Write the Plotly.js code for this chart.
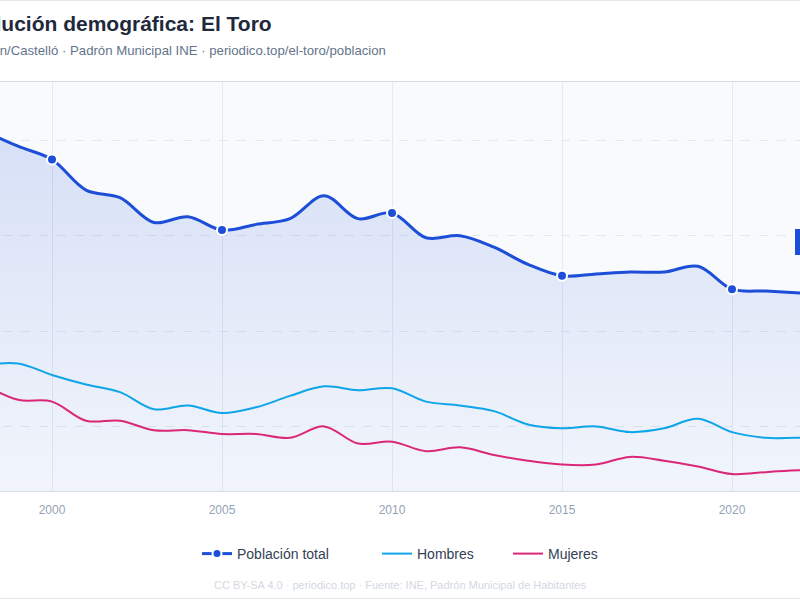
<!DOCTYPE html>
<html>
<head>
<meta charset="utf-8">
<script src="https://cdn.plot.ly/plotly-3.0.1.min.js"></script>
<style>
  html, body { margin: 0; padding: 0; background: #ffffff; width: 800px; height: 600px; overflow: hidden; }
  #frame { position: absolute; left: 0; top: 0; width: 800px; height: 600px; overflow: hidden; }
  #chart { position: absolute; left: -120px; top: 0; width: 1040px; height: 600px; }
  .rule { position: absolute; left: 0; width: 800px; height: 1px; background: #e3e7ee; }
</style>
</head>
<body>
<div id="frame">
  <div id="chart"></div>
  <div class="rule" style="top:0"></div>
  <div class="rule" style="top:598px"></div>
</div>
<script>
// Padrón municipal, El Toro (Castellón/Castelló)
const years    = [1998, 1999, 2000, 2001, 2002, 2003, 2004, 2005, 2006, 2007, 2008, 2009, 2010,
                  2011, 2012, 2013, 2014, 2015, 2016, 2017, 2018, 2019, 2020, 2021, 2022, 2023];
const total    = [255, 247, 240, 224, 220, 207, 210, 203, 206, 209, 221, 209, 212,
                  199, 200, 194, 185, 179, 180, 181, 181, 184, 172, 171, 170, 169];
const hombres  = [132, 133, 127, 122, 118, 109, 111, 107, 110, 116, 121, 119, 120,
                  113, 111, 108, 101,  99, 100,  97,  99, 104,  97,  94,  94,  93];
const mujeres  = [122, 114, 113, 103, 103,  98,  98,  96,  96,  94, 100,  91,  92,
                   87,  89,  85,  82,  80,  80,  84,  82,  79,  75,  76,  77,  76];
const xTicks   = [2000, 2005, 2010, 2015, 2020];
const yTicks   = [100, 150, 200, 250];

const BLUE = '#1d4ed8', SKY = '#0ea5e9', PINK = '#db2777';
const FONT = 'Liberation Sans, Arial, Helvetica, sans-serif';

// five-year checkpoints get a marker on the total line
const markYears = years.filter(y => y % 5 === 0);
const markTotal = markYears.map(y => total[years.indexOf(y)]);

const traces = [
  {
    x: years, y: total, type: 'scatter', mode: 'lines',
    line: { color: BLUE, width: 3, shape: 'spline', smoothing: 1 },
    fill: 'tozeroy',
    fillgradient: {
      type: 'vertical', start: 66, stop: 250,
      colorscale: [[0, 'rgba(29,78,216,0.03)'], [1, 'rgba(29,78,216,0.15)']]
    },
    showlegend: false, hoverinfo: 'skip'
  },
  {
    x: years, y: hombres, type: 'scatter', mode: 'lines', name: 'Hombres',
    line: { color: SKY, width: 2, shape: 'spline', smoothing: 1 },
    legend: 'legend2'
  },
  {
    x: years, y: mujeres, type: 'scatter', mode: 'lines', name: 'Mujeres',
    line: { color: PINK, width: 2, shape: 'spline', smoothing: 1 },
    legend: 'legend3'
  },
  {
    x: markYears, y: markTotal, type: 'scatter', mode: 'markers',
    marker: { color: BLUE, size: 10, line: { color: '#ffffff', width: 2 } },
    showlegend: false
  },
  {
    // legend entry for the total series (line with checkpoint marker)
    x: [null], y: [null], type: 'scatter', mode: 'lines+markers', name: 'Población total',
    line: { color: BLUE, width: 3 },
    marker: { color: BLUE, size: 9, line: { color: '#ffffff', width: 2 } },
    legend: 'legend'
  }
];

const legendBase = {
  orientation: 'h', xref: 'container', yref: 'container',
  y: 1 - 554 / 600, yanchor: 'middle', xanchor: 'left',
  bgcolor: 'rgba(0,0,0,0)', borderwidth: 0,
  font: { family: FONT, size: 14, color: '#334155' }
};

const layout = {
  width: 1040, height: 600,
  paper_bgcolor: '#ffffff', plot_bgcolor: '#f8fafc',
  margin: { l: 87, r: 69, t: 82, b: 109 },
  font: { family: FONT },
  title: {
    text: 'Evolución demográfica: El Toro',
    xref: 'container', x: 77 / 1040, xanchor: 'left',
    yref: 'container', y: 1 - 24 / 600, yanchor: 'middle',
    font: { family: FONT, size: 21, color: '#1e293b', weight: 700 }
  },
  xaxis: {
    range: [1997.5, 2023.5], tickvals: xTicks, ticktext: xTicks.map(String),
    showgrid: true, gridcolor: '#e5e9f0', gridwidth: 1,
    showline: true, mirror: true, linecolor: '#d5dbe4', linewidth: 1,
    zeroline: false, ticks: '', ticklabelstandoff: 8,
    tickfont: { family: FONT, size: 12, color: '#94a3b8' }
  },
  yaxis: {
    range: [66.1, 280.7], tickvals: yTicks, showticklabels: false,
    showgrid: true, gridcolor: '#e2e8f0', griddash: 'dash', gridwidth: 1,
    zeroline: false, showline: false, ticks: ''
  },
  legend:  Object.assign({}, legendBase, { x: 317 / 1040 }),
  legend2: Object.assign({}, legendBase, { x: 497 / 1040 }),
  legend3: Object.assign({}, legendBase, { x: 628 / 1040 }),
  annotations: [
    {
      text: 'Castellón/Castelló · Padrón Municipal INE · periodico.top/el-toro/poblacion',
      xref: 'paper', yref: 'paper', x: -17 / 884, y: (491 - 51) / 409,
      xanchor: 'left', yanchor: 'middle', showarrow: false,
      font: { family: FONT, size: 13.2, color: '#64748b' }
    },
    {
      text: 'CC BY-SA 4.0 · periodico.top · Fuente: INE, Padrón Municipal de Habitantes',
      xref: 'paper', yref: 'paper', x: 433 / 884, y: (491 - 585) / 409,
      xanchor: 'center', yanchor: 'middle', showarrow: false,
      font: { family: FONT, size: 11, color: '#d3d9e2' }
    },
    {
      text: '<b>' + total[total.length - 1] + ' hab.</b>',
      xref: 'x', yref: 'y', x: 2021.85, y: 197,
      xanchor: 'left', yanchor: 'middle', showarrow: false,
      bgcolor: BLUE, bordercolor: BLUE, borderpad: 5,
      font: { family: FONT, size: 12, color: '#ffffff' }
    }
  ]
};

Plotly.newPlot('chart', traces, layout, { displayModeBar: false, staticPlot: true });
</script>
</body>
</html>
